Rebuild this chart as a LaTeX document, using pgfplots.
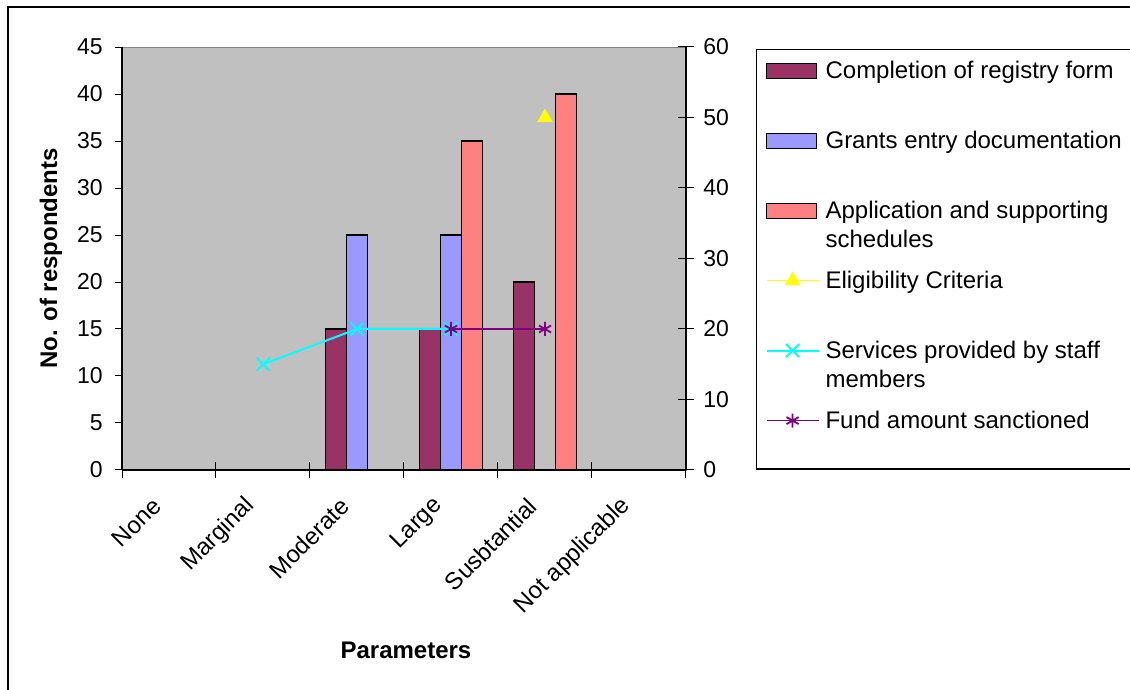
\documentclass[border=0pt]{standalone}
\usepackage{pgfplots}
\pgfplotsset{compat=1.18}
\usepackage{fontspec}
\setmainfont{Liberation Sans}

\definecolor{plotgray}{HTML}{C0C0C0}
\definecolor{regmaroon}{HTML}{993366}
\definecolor{grantblue}{HTML}{9999FF}
\definecolor{appsalmon}{HTML}{FF8080}
\definecolor{eligyellow}{HTML}{FFFF00}
\definecolor{servcyan}{HTML}{00FFFF}
\definecolor{fundpurple}{HTML}{800080}

\pgfplotsset{
  barlegend/.style={legend image code/.code={\draw[##1] (0pt,0pt) rectangle (25pt,7.5pt);}},
  linelegend/.style={legend image code/.code={\draw[mark repeat=2,mark phase=2,##1] plot coordinates {(0pt,4pt) (13pt,4pt) (26pt,4pt)};}},
  chartbox/.style={
    scale only axis, width=282pt, height=211.5pt,
    at={(61pt,110pt)}, anchor=south west,
    xmin=-0.5, xmax=5.5,
    axis line style={black, line width=0.6pt, -},
    tick style={black, line width=0.5pt},
    tick label style={font=\fontsize{11.5}{13}\selectfont},
    /pgf/number format/assume math mode=true,
  },
}

\begin{document}
\begin{tikzpicture}
\useasboundingbox (0,0) rectangle (565pt,345pt);
% outer chart frame
\draw[black, line width=1pt] (4pt,-5pt) rectangle (575pt,341.5pt);

% bars, left axis
\begin{axis}[chartbox,
  ymin=0, ymax=45, ytick={0,5,...,45},
  axis x line*=bottom, axis y line*=left,
  tick align=outside, major tick length=3.5pt,
  xtick={0,...,5},
  xticklabels={None,Marginal,Moderate,Large,Susbtantial,Not applicable},
  xtick style={draw=none},
  xticklabel style={yshift=-12.5pt, xshift=-6pt, rotate=45, anchor=east, inner sep=0pt,
    font=\fontsize{12}{14}\selectfont},
  yticklabel style={inner xsep=6pt},
  axis background/.style={fill=plotgray, draw=gray},
  ybar=0pt, bar width=10.5pt,
  xlabel={Parameters}, ylabel={No. of respondents},
  label style={font=\fontsize{12}{14}\selectfont\bfseries},
  xlabel style={at={(axis description cs:0.5035,-0.4255)}, anchor=center},
  ylabel style={at={(axis description cs:-0.1259,0.5)}, anchor=center},
]
\addplot[fill=regmaroon, draw=black, line width=0.85pt] coordinates {(2,15) (3,15) (4,20)};
\addplot[fill=grantblue, draw=black, line width=0.85pt] coordinates {(2,25) (3,25)};
\addplot[fill=appsalmon, draw=black, line width=0.85pt] coordinates {(3,35) (4,40)};
\end{axis}

% lines, right axis, and the legend
\begin{axis}[chartbox,
  ymin=0, ymax=60, ytick={0,10,...,60},
  axis x line*=bottom, axis y line*=right,
  tick align=center, major tick length=8pt,
  xtick={-0.5,0.5,...,5.5}, xticklabels={},
  yticklabel style={inner xsep=4.5pt},
  linelegend,
  legend style={
    at={(axis description cs:1.1241,0.9953)}, anchor=north west,
    draw=black, fill=white, line width=0.6pt,
    inner xsep=4.5pt, inner ysep=6.5pt,
    font=\fontsize{12}{14.5}\selectfont,
    row sep=0pt, column sep=3pt,
    nodes={text width=152pt, align=flush left, inner xsep=0pt, inner ysep=0pt,
           text height=8pt, text depth=27pt, anchor=base west},
  },
]
\addlegendimage{barlegend, fill=regmaroon, draw=black, line width=0.85pt}
\addlegendentry{Completion of registry form}
\addlegendimage{barlegend, fill=grantblue, draw=black, line width=0.85pt}
\addlegendentry{Grants entry documentation}
\addlegendimage{barlegend, fill=appsalmon, draw=black, line width=0.85pt}
\addlegendentry{Application and supporting\\schedules}
\addplot[eligyellow, line width=0.6pt, mark=triangle*, mark size=3.9pt,
  mark options={fill=eligyellow, draw=eligyellow}] coordinates {(4,50)};
\addlegendentry{Eligibility Criteria}
\addplot[servcyan, line width=1pt, mark=x, mark size=4.6pt] coordinates {(1,15) (2,20) (3,20)};
\addlegendentry{Services provided by staff\\members}
\addplot[fundpurple, line width=0.9pt, mark=asterisk, mark size=3.5pt] coordinates {(3,20) (4,20)};
\addlegendentry[text depth=13.75pt]{Fund amount sanctioned}
\end{axis}
\end{tikzpicture}
\end{document}
